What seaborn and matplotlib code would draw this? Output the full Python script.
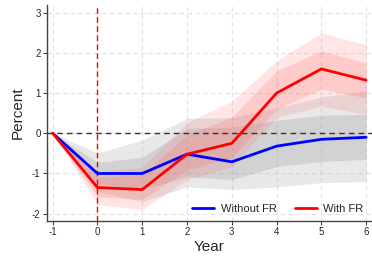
import numpy as np
import pandas as pd
import matplotlib
matplotlib.use('Agg')
import matplotlib.pyplot as plt
import seaborn as sns

# Values
years = [-1, 0, 1, 2, 3, 4, 5, 6]

without_fr = [0, -1.0, -1.0, -0.52, -0.71, -0.32, -0.15, -0.10]
wo_in_lo = [0, -1.25, -1.40, -1.08, -1.15, -0.83, -0.70, -0.65]
wo_in_hi = [0, -0.72, -0.60, 0.12, 0.15, 0.32, 0.45, 0.47]
wo_out_lo = [0, -1.45, -1.70, -1.33, -1.40, -1.33, -1.23, -1.20]
wo_out_hi = [0, -0.49, -0.17, 0.37, 0.39, 0.63, 0.90, 1.05]

with_fr = [0, -1.35, -1.40, -0.52, -0.25, 1.00, 1.60, 1.32]
w_in_lo = [0, -1.58, -1.65, -0.90, -0.60, 0.60, 1.10, 0.88]
w_in_hi = [0, -1.10, -1.03, -0.05, 0.40, 1.55, 2.05, 1.75]
w_out_lo = [0, -1.77, -1.90, -1.15, -0.83, 0.40, 0.67, 0.47]
w_out_hi = [0, -0.95, -0.85, 0.27, 0.80, 1.80, 2.50, 2.20]

df = pd.DataFrame({
    'Year': years * 2,
    'Percent': without_fr + with_fr,
    'Group': ['Without FR'] * len(years) + ['With FR'] * len(years),
})

sns.set_style('white')
plt.rcParams['font.family'] = ['Liberation Sans', 'DejaVu Sans']
plt.rcParams['axes.unicode_minus'] = False

fig = plt.figure(figsize=(3.72, 2.56), dpi=100)
ax = fig.add_axes([0.126, 0.137, 0.874, 0.845])

# confidence bands
ax.fill_between(years, wo_out_lo, wo_out_hi, color='#9a9a9a', alpha=0.22, lw=0)
ax.fill_between(years, wo_in_lo, wo_in_hi, color='#9a9a9a', alpha=0.28, lw=0)
ax.fill_between(years, w_out_lo, w_out_hi, color='#ff6060', alpha=0.16, lw=0)
ax.fill_between(years, w_in_lo, w_in_hi, color='#ff6060', alpha=0.2, lw=0)

ax.axhline(0, color='#333333', ls=(0, (4, 3)), lw=1)
ax.axvline(0, color='#ff0000', ls=(0, (4, 2.5)), lw=1)

sns.lineplot(data=df, x='Year', y='Percent', hue='Group',
             palette={'Without FR': 'blue', 'With FR': 'red'},
             hue_order=['Without FR', 'With FR'], lw=2, ax=ax)

ax.set_xlim(-1.13, 6.13)
ax.set_ylim(-2.18, 3.2)
ax.set_xticks(years)
ax.set_yticks([-2, -1, 0, 1, 2, 3])
ax.grid(True, color='#e2e2e2', ls=(0, (4, 3)), lw=0.8)
ax.set_axisbelow(True)
sns.despine(ax=ax, top=True, right=True)
for s in ['left', 'bottom']:
    ax.spines[s].set_color('#444444')
    ax.spines[s].set_linewidth(1)
ax.tick_params(axis='both', direction='out', length=3, width=0.8,
               color='#444444', labelsize=7, pad=1.5, left=True, bottom=True)
ax.set_xlabel('Year', fontsize=11, labelpad=2)
ax.set_ylabel('Percent', fontsize=11, labelpad=5)

ax.legend(title=None, loc='lower right', ncol=2, frameon=False, fontsize=8,
          handlelength=2.0, handletextpad=0.6, columnspacing=1.6,
          borderaxespad=0.2, bbox_to_anchor=(0.995, 0.0))

fig.savefig('out.png', dpi=100)
